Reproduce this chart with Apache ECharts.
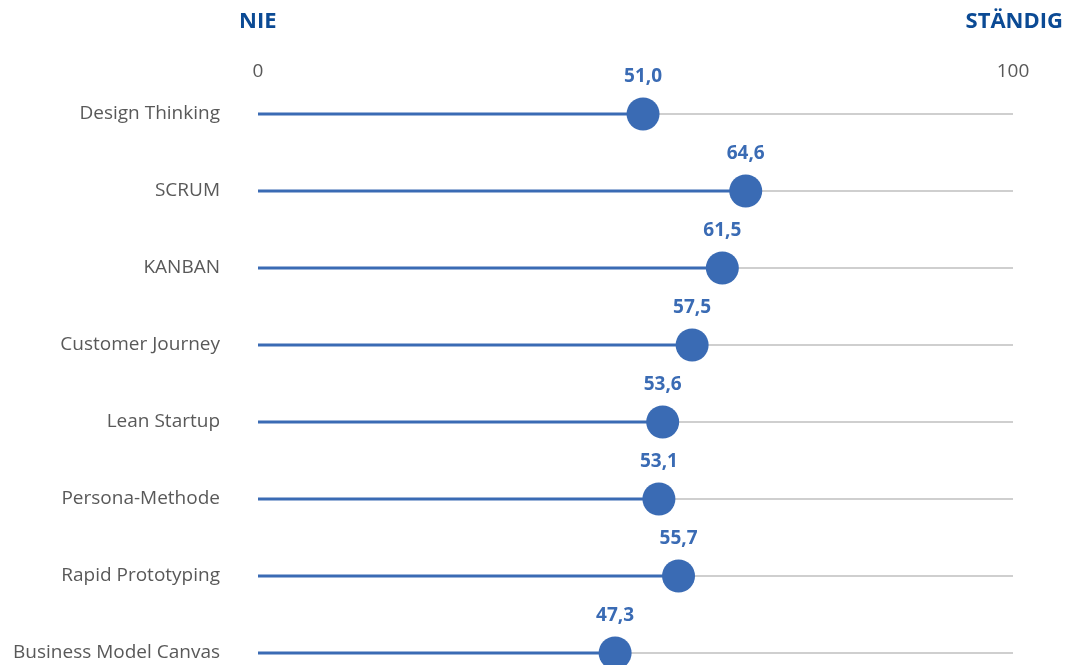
<!DOCTYPE html>
<html><head><meta charset="utf-8">
<script src="https://cdn.jsdelivr.net/npm/echarts@6/dist/echarts.min.js"></script>
<style>html,body{margin:0;padding:0;background:#fff}#c{width:1065px;height:665px}</style>
</head><body><div id="c"></div>
<script>
const categories = ["Design Thinking","SCRUM","KANBAN","Customer Journey","Lean Startup","Persona-Methode","Rapid Prototyping","Business Model Canvas"];
const values = [51.0, 64.6, 61.5, 57.5, 53.6, 53.1, 55.7, 47.3];
const headerLeft = "NIE";
const headerRight = "STÄNDIG";

const FONT = '"Open Sans", "Noto Sans", sans-serif';
const BLUE = '#3a6bb4';
const chart = echarts.init(document.getElementById('c'));
chart.setOption({
  animation: false,
  backgroundColor: '#fff',
  grid: { left: 258, right: 52, top: 114, bottom: 12, containLabel: false },
  graphic: [
    { type: 'text', left: 239, top: 11, style: { text: headerLeft, font: 'bold 22px ' + FONT, fill: '#0b4a94' } },
    { type: 'text', right: 2, top: 11, style: { text: headerRight, font: 'bold 22px ' + FONT, fill: '#0b4a94' } }
  ],
  xAxis: {
    type: 'value', position: 'top', min: 0, max: 100, interval: 100,
    axisLine: { show: false }, axisTick: { show: false }, splitLine: { show: false },
    axisLabel: { margin: 33, fontSize: 19, color: '#595959', fontFamily: FONT }
  },
  yAxis: {
    type: 'category', data: categories, inverse: true, boundaryGap: false,
    axisLine: { show: false }, axisTick: { show: false },
    splitLine: { show: true, lineStyle: { color: '#bfbfbf', width: 1.5 } },
    axisLabel: { margin: 38, fontSize: 19, color: '#595959', fontFamily: FONT }
  },
  series: [
    { type: 'bar', data: values, barWidth: 3, itemStyle: { color: BLUE }, silent: true, z: 2 },
    { type: 'scatter', data: values, symbolSize: 33, itemStyle: { color: BLUE, opacity: 1 }, z: 3,
      label: { show: true, position: 'top', distance: 11, color: BLUE, fontWeight: 'bold', fontSize: 19, fontFamily: FONT,
        formatter: p => p.value.toFixed(1).replace('.', ',') } }
  ]
});
</script></body></html>
